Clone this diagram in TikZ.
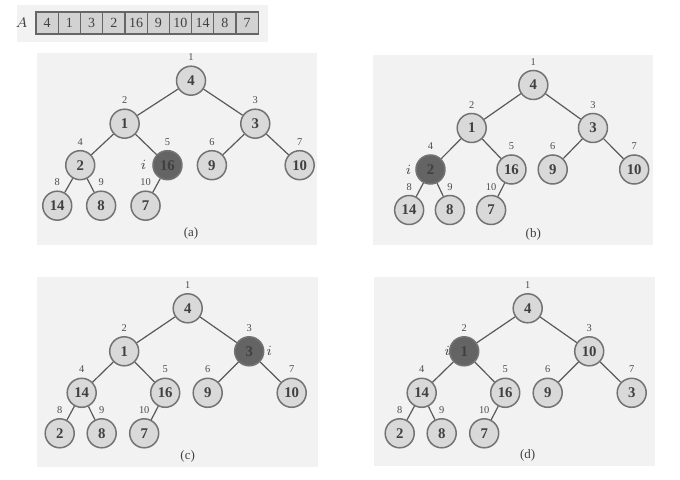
\documentclass[tikz,border=0pt]{standalone}
\usepackage{fontspec}
\setmainfont{Liberation Serif}
\usetikzlibrary{positioning}

\definecolor{panelbg}{HTML}{F2F2F2}
\definecolor{keyfill}{HTML}{D9D9D9}
\definecolor{hotfill}{HTML}{646464}
\definecolor{cellfill}{HTML}{D2D2D2}

\begin{document}
\begin{tikzpicture}[x=0.5pt, y=-0.5pt,
  every node/.style={font=\fontsize{7}{8}\selectfont},
  panel/.style={fill=panelbg},
  key/.style={circle, fill=#1, draw=black!55, line width=0.75pt, minimum size=14.5pt,
              inner sep=0pt, text=black!75, font=\fontsize{7.4}{8}\selectfont\bfseries},
  idx/.style={font=\fontsize{5.2}{6}\selectfont, text=black!70, inner sep=0.5pt, label distance=1.6pt},
  ilab/.style={font=\fontsize{7.5}{8}\selectfont, text=black!70, inner sep=0pt},
  edge/.style={draw=black!65, line width=0.6pt},
  cell/.style={rectangle, fill=cellfill, draw=black!60, line width=0.6pt, minimum width=11.1pt,
               minimum height=11pt, inner sep=0pt, outer sep=0pt, text=black!75},
  captag/.style={font=\fontsize{6.5}{7}\selectfont, text=black!75},
]
\useasboundingbox (0,0) rectangle (680,480);

% --- array A on top
\fill[panel] (17,5) rectangle (268,42);
\foreach \v [count=\k] in {4,1,3,2,16,9,10,14,8,7}
  \node[cell] (A-\k) at ({36+22.23*(\k-0.5)},23) {\v};
\node[left=3pt of A-1, inner sep=1pt, text=black!75] (A-name) {$A$};

% --- panel backgrounds
\fill[panel] (37,53) rectangle (317,245);
\fill[panel] (373,55) rectangle (653,245);
\fill[panel] (37,277) rectangle (317.5,467);
\fill[panel] (374,277) rectangle (655,466);

% --- the four heaps (heap positions 1..10)
\def\nodex{{0,-63.5,61.5,-106,-22.5,20,104,-128,-86,-43.5}}
\def\nodey{{0,43,43,84.5,84.5,84.5,84.5,125,125,125}}
\foreach \p/\rx/\ry/\sx/\cy/\vals/\hi/\ix in {
    a/191/80.7/1.045/233.3/{4,1,3,2,16,9,10,14,8,7}/5/-24,
    b/533.3/85/0.97/234/{4,1,3,2,16,9,10,14,8,7}/4/-22,
    c/187.7/308.3/1/456/{4,1,3,14,16,9,10,2,8,7}/3/20,
    d/527.7/308.3/1/455/{4,1,10,14,16,9,3,2,8,7}/2/-17} {
  \foreach \v [count=\k] in \vals {
    \pgfmathsetmacro\nx{\rx+\sx*\nodex[\k-1]}
    \pgfmathsetmacro\ny{\ry+\nodey[\k-1]}
    \ifnum\k=\hi \def\kfill{hotfill}\else \def\kfill{keyfill}\fi
    \node[key=\kfill, label={[idx]above:\k}] (\p-\k) at (\nx,\ny) {\v};
  }
  \foreach \c in {2,...,10} {
    \pgfmathtruncatemacro\up{\c/2}
    \draw[edge] (\p-\up) -- (\p-\c);
  }
  \path (\p-\hi) ++(\ix,0) node[ilab] (\p-i) {$i$};
  \node[captag] (\p-cap) at (\rx,\cy) {(\p)};
}

\end{tikzpicture}
\end{document}
